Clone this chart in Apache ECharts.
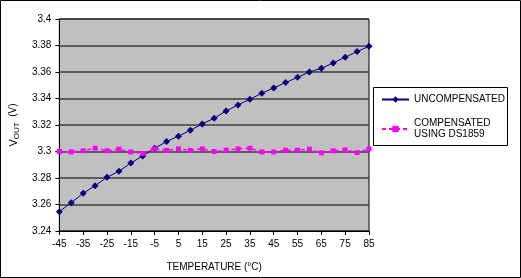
<!DOCTYPE html>
<html>
<head>
<meta charset="utf-8">
<script src="https://cdn.jsdelivr.net/npm/echarts@6/dist/echarts.min.js"></script>
<style>html,body{margin:0;padding:0;background:#fff;}#c{width:521px;height:278px;}</style>
</head>
<body>
<div id="c"></div>
<script>
const temperatures = [-45,-40,-35,-30,-25,-20,-15,-10,-5,0,5,10,15,20,25,30,35,40,45,50,55,60,65,70,75,80,85];
const uncompensated = [3.2546,3.2614,3.2685,3.2742,3.2805,3.2851,3.2913,3.2966,3.3024,3.3075,3.3116,3.3160,3.3208,3.3251,3.3306,3.3351,3.3394,3.3440,3.3480,3.3520,3.3560,3.3600,3.3628,3.3668,3.3711,3.3754,3.3794];
const compensated = [3.3000,3.2997,3.3005,3.3025,3.3005,3.3018,3.2997,3.2985,3.3020,3.3008,3.3020,3.3008,3.3020,3.3000,3.3010,3.3020,3.3025,3.2997,3.2997,3.3010,3.3010,3.3018,3.2990,3.3005,3.3012,3.2992,3.3020];
const seriesNames = ['UNCOMPENSATED', 'COMPENSATED\nUSING DS1859'];
const xTitle = 'TEMPERATURE (°C)';

const font = 'Liberation Sans, Arial, sans-serif';
const chart = echarts.init(document.getElementById('c'), null, {renderer: 'canvas'});
chart.setOption({
  animation: false,
  backgroundColor: '#fff',
  textStyle: {fontFamily: font, color: '#000'},
  grid: {left: 57, right: 152, top: 19, bottom: 47, show: true, backgroundColor: '#c0c0c0', borderColor: '#000', borderWidth: 1},
  graphic: [
    {type: 'rect', shape: {x: 0.5, y: 0.5, width: 520, height: 277}, style: {fill: 'none', stroke: '#000', lineWidth: 1}, z: 100},
    {type: 'rect', shape: {x: 373.5, y: 87.5, width: 134, height: 58}, style: {fill: '#fff', stroke: '#000', lineWidth: 1}, z: 1}
  ],
  legend: {
    orient: 'vertical', left: 376, top: 89, itemWidth: 27, itemHeight: 8, itemGap: 13,
    textStyle: {fontFamily: font, fontSize: 10, color: '#000', lineHeight: 11},
    z: 5
  },
  xAxis: {
    type: 'category', data: temperatures, boundaryGap: false,
    name: xTitle, nameLocation: 'middle', nameGap: 31,
    nameTextStyle: {fontFamily: font, fontSize: 10, color: '#000'},
    axisLine: {lineStyle: {color: '#000', width: 1}},
    axisTick: {show: true, interval: 1, length: 4, lineStyle: {color: '#000'}},
    axisLabel: {interval: 1, fontFamily: font, fontSize: 10, color: '#000', margin: 8},
    splitLine: {show: false}
  },
  yAxis: {
    type: 'value', min: 3.24, max: 3.4, interval: 0.02,
    name: '{a|V}{b|OUT}{c|  (V)}', nameLocation: 'middle', nameRotate: 90, nameGap: 38,
    nameTextStyle: {
      rich: {
        a: {fontFamily: font, fontSize: 11, color: '#000', lineHeight: 15, verticalAlign: 'middle'},
        b: {fontFamily: font, fontSize: 8, color: '#000', lineHeight: 8, verticalAlign: 'bottom'},
        c: {fontFamily: font, fontSize: 10, color: '#000', lineHeight: 15, verticalAlign: 'middle'}
      }
    },
    axisLine: {show: true, lineStyle: {color: '#000', width: 1}},
    axisTick: {show: true, length: 4, lineStyle: {color: '#000'}},
    axisLabel: {fontFamily: font, fontSize: 10, color: '#000', margin: 8, formatter: v => String(+v.toFixed(2))},
    splitLine: {show: true, lineStyle: {color: '#3c3c3c', width: 1.5}}
  },
  series: [
    {
      name: seriesNames[0], type: 'line', data: uncompensated,
      symbol: 'diamond', symbolSize: 7, showSymbol: true,
      lineStyle: {color: '#000080', width: 1}, itemStyle: {color: '#000080'}, z: 3
    },
    {
      name: seriesNames[1], type: 'line', data: compensated,
      symbol: 'rect', symbolSize: 5, showSymbol: true,
      lineStyle: {color: '#ff00ff', width: 1.5, type: [4, 3]}, itemStyle: {color: '#ff00ff'}, z: 4
    }
  ]
});
</script>
</body>
</html>
